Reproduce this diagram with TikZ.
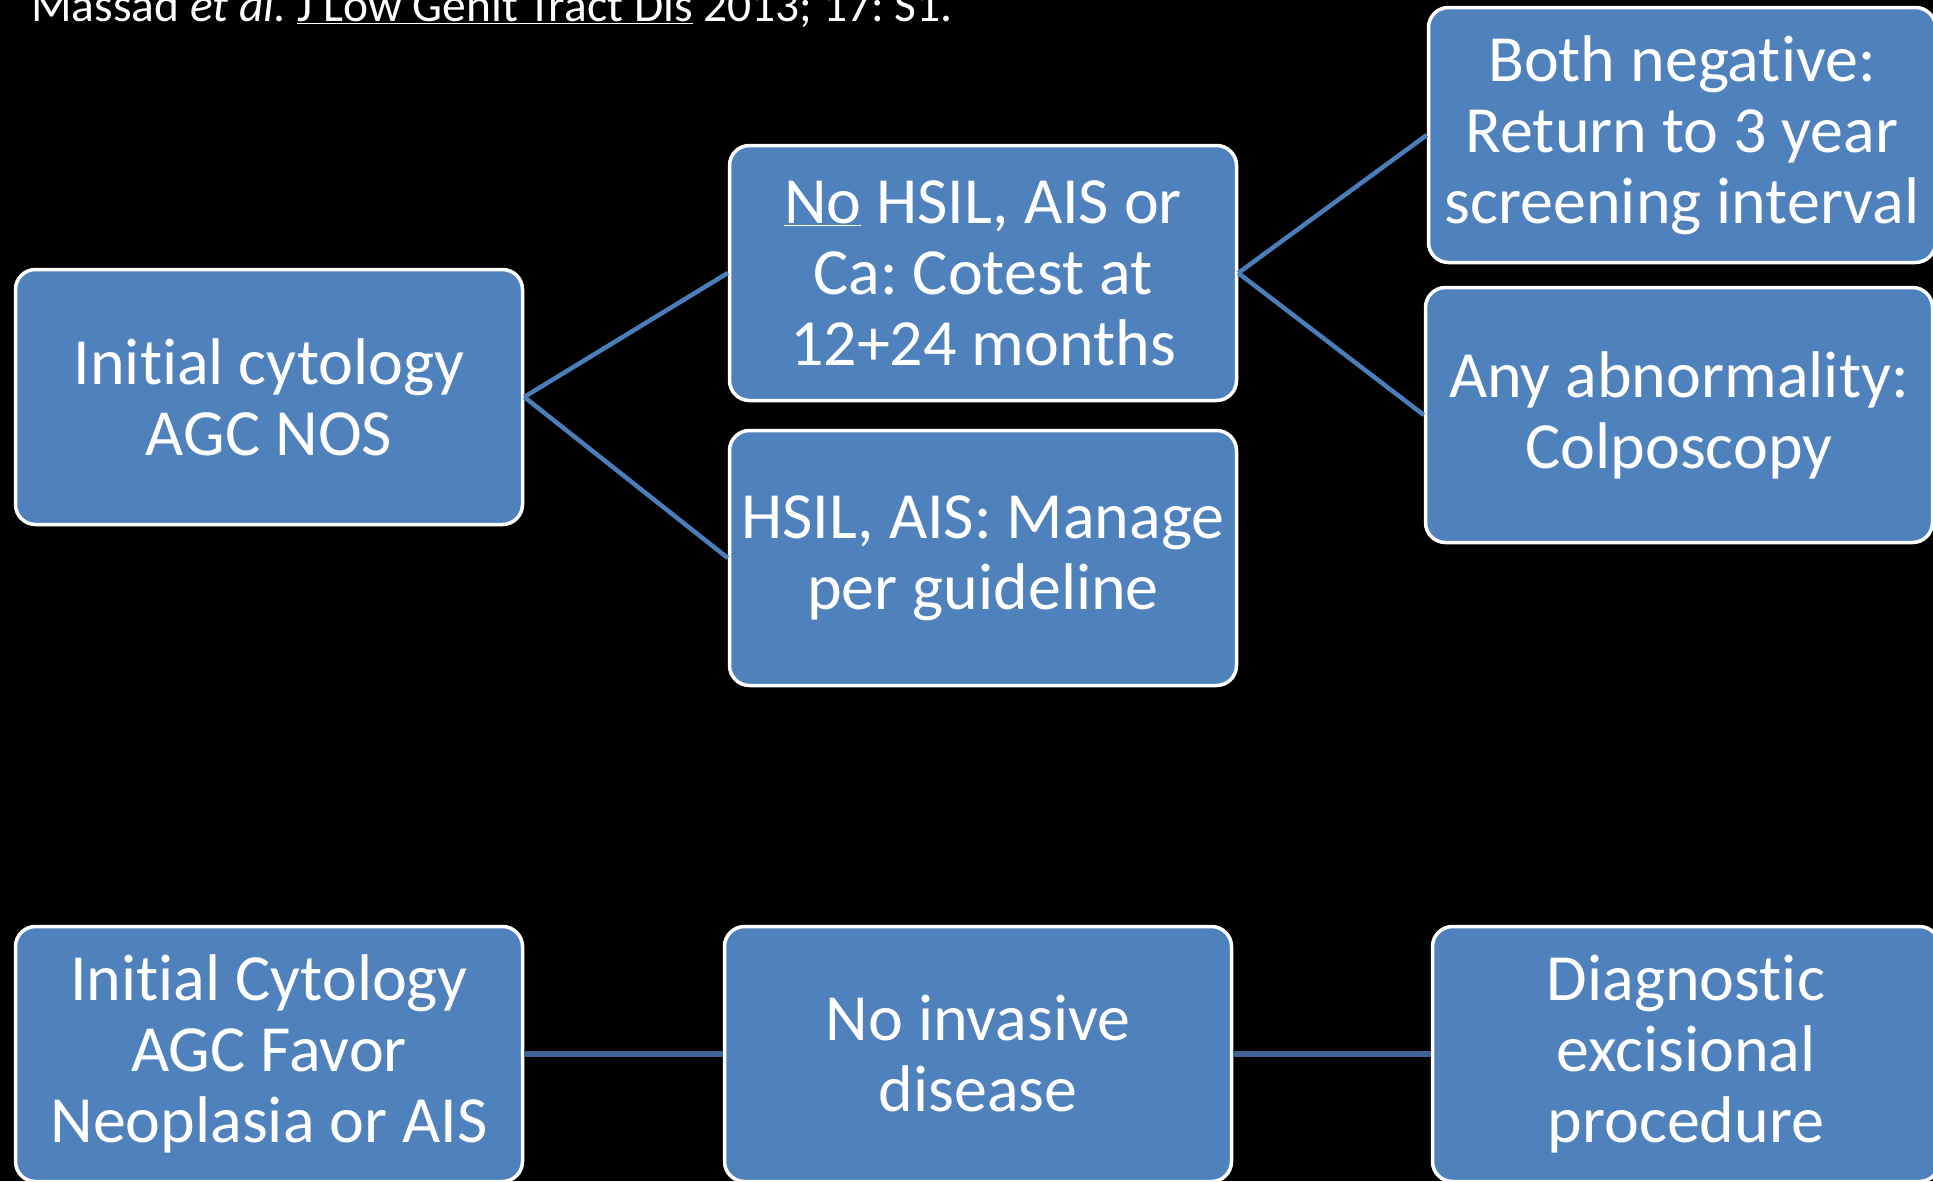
\documentclass[tikz,border=0pt]{standalone}
\usepackage{fontspec}
\setmainfont{Carlito}[Ligatures=NoCommon]
\frenchspacing
\definecolor{boxblue}{HTML}{4F81BD}
\definecolor{linkblue}{HTML}{4A7EBB}
\definecolor{linkdark}{HTML}{3C6296}
\begin{document}
\begin{tikzpicture}[x=1pt,y=-1pt,
  flowbox/.style={rectangle, rounded corners=20pt, fill=boxblue, draw=white,
    line width=3.5pt, minimum width=507pt, minimum height=255pt, inner sep=0pt,
    text=white, align=center, font=\fontsize{66}{71}\selectfont},
  link/.style={draw=linkblue, line width=4.5pt},
  linkbold/.style={draw=linkdark, line width=5.5pt}]
  % page and background
  \fill[black] (0,0) rectangle (1933,1181);
  \useasboundingbox (0,0) rectangle (1933,1181);

  % citation line
  \node[anchor=base west, inner sep=0pt, text=white,
        font=\fontsize{47.5}{56}\selectfont] (cite) at (31,21)
    {Massad \textit{et al.} \underline{J Low Genit Tract Dis} 2013; 17: S1.};

  % AGC NOS branch
  \node[flowbox] (nos) at (269,397) {Initial cytology\\AGC NOS};
  \node[flowbox] (nohsil) at (983,273) {\underline{No} HSIL, AIS or\\Ca: Cotest at\\12+24 months};
  \node[flowbox] (hsil) at (983,558) {HSIL, AIS: Manage\\per guideline};
  \node[flowbox] (neg) at (1682,135) {Both negative:\\Return to 3 year\\screening interval};
  \node[flowbox] (abn) at (1679,415) {Any abnormality:\\Colposcopy};

  % AGC favor neoplasia branch
  \node[flowbox] (fav) at (269,1054) {Initial Cytology\\AGC Favor\\Neoplasia or AIS};
  \node[flowbox] (noinv) at (978,1054) {No invasive\\disease};
  \node[flowbox] (exc) at (1686,1054) {Diagnostic\\excisional\\procedure};

  % connectors
  \draw[link] (nos.east) -- (nohsil.west);
  \draw[link] (nos.east) -- (hsil.west);
  \draw[link] (nohsil.east) -- (neg.west);
  \draw[link] (nohsil.east) -- (abn.west);
  \draw[linkbold] (fav.east) -- (noinv.west);
  \draw[linkbold] (noinv.east) -- (exc.west);
\end{tikzpicture}
\end{document}
